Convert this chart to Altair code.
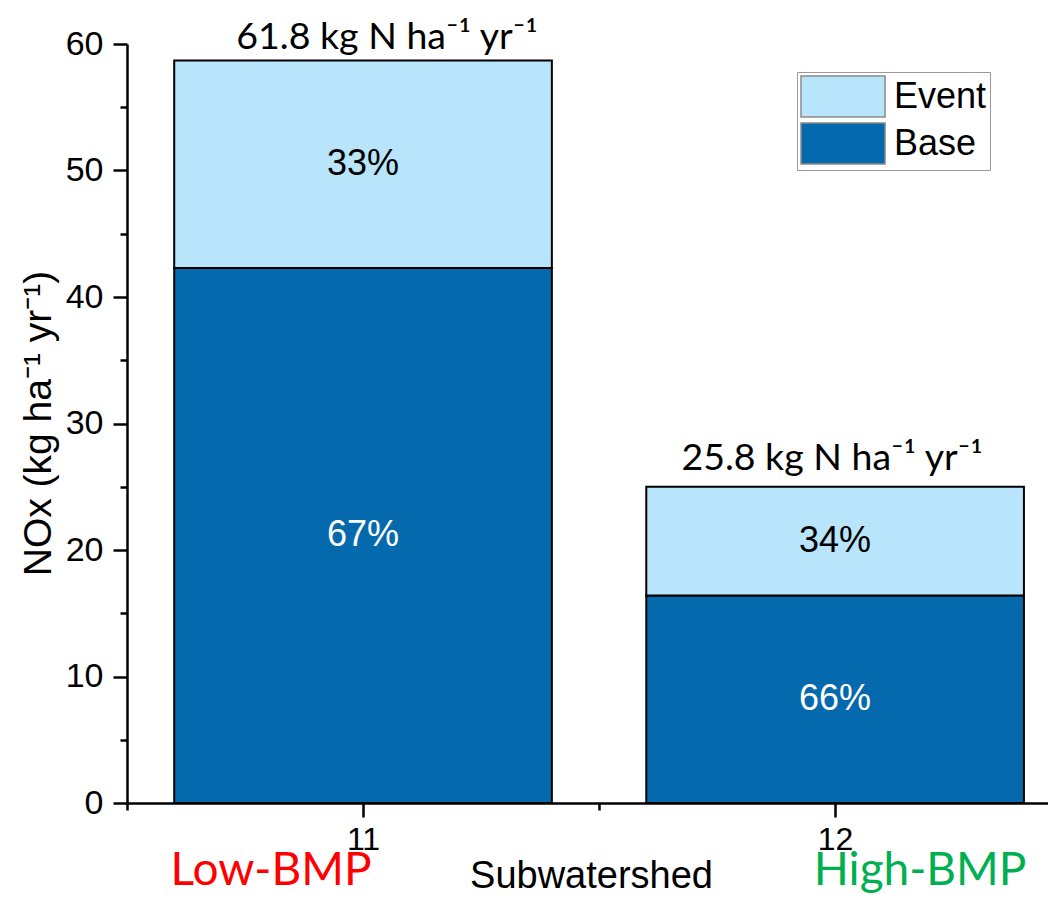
import altair as alt
import pandas as pd

# ---- data ----
categories = [11, 12]
base_values = [42.3, 16.4]
event_values = [16.4, 8.6]
base_pct = ["67%", "66%"]
event_pct = ["33%", "34%"]
total_labels = ["61.8 kg N ha\u207b\u00b9 yr\u207b\u00b9", "25.8 kg N ha\u207b\u00b9 yr\u207b\u00b9"]
series_names = ["Event", "Base"]
series_colors = ["#B8E5FB", "#0569AD"]
series_order = {"Base": 0, "Event": 1}
y_major = [0, 10, 20, 30, 40, 50, 60]
y_minor = [5, 15, 25, 35, 45, 55]
x_major = [11, 12]
x_minor = [10.5, 11.5]
group_labels = ["Low-BMP", "High-BMP"]
group_colors = ["#FF0000", "#00B050"]

rows = []
for i, c in enumerate(categories):
    rows.append(dict(cat=c, series="Base", value=base_values[i], pct=base_pct[i], ord=series_order["Base"]))
    rows.append(dict(cat=c, series="Event", value=event_values[i], pct=event_pct[i], ord=series_order["Event"]))
df = pd.DataFrame(rows)

df_tot = pd.DataFrame(dict(cat=categories, label=total_labels, base=base_values, event=event_values))
df_grp = pd.DataFrame(dict(cat=categories, glabel=group_labels, gcolor=group_colors))

xscale = alt.Scale(domain=[10.5, 12.451], nice=False, zero=False)
yscale = alt.Scale(domain=[0, 60], nice=False, zero=True)

FONT = "Liberation Sans"
CAL = "Lato"
TICKFS = 34

x_main_axis = alt.Axis(
    values=x_major, format="d", orient="bottom", grid=False,
    tickSize=14, tickWidth=2.5, tickColor="black",
    domainColor="black", domainWidth=2.5,
    labelFont=FONT, labelFontSize=32, labelColor="black", labelPadding=7,
    title="Subwatershed", titleFont=FONT, titleFontSize=38, titleFontWeight="normal",
    titleColor="black", titleX=464, titleY=84, titleAlign="center", titleBaseline="alphabetic",
)
y_main_axis = alt.Axis(
    values=y_major, orient="left", grid=False,
    tickSize=14, tickWidth=2.5, tickColor="black",
    domainColor="black", domainWidth=2.5,
    labelFont=FONT, labelFontSize=TICKFS, labelColor="black", labelPadding=10,
    title="NOx (kg ha\u207b\u00b9 yr\u207b\u00b9)", titleFont=FONT, titleFontSize=39,
    titleFontWeight="normal", titleColor="black", titleAngle=270,
    titleX=-77, titleY=379, titleAlign="center", titleBaseline="alphabetic",
)
x_minor_axis = alt.Axis(values=x_minor, orient="bottom", grid=False, labels=False, domain=False,
                        tickSize=7, tickWidth=2.5, tickColor="black", title=None)
y_minor_axis = alt.Axis(values=y_minor, orient="left", grid=False, labels=False, domain=False,
                        tickSize=7, tickWidth=2.5, tickColor="black", title=None)

stacked = alt.Chart(df).transform_stack(
    stack="value", groupby=["cat"], sort=[alt.SortField("ord", order="ascending")], as_=["y0", "y1"]
)

bars = stacked.transform_calculate(
    xa="datum.cat - 0.4", xb="datum.cat + 0.4"
).mark_bar(stroke="black", strokeWidth=2).encode(
    x=alt.X("xa:Q", scale=xscale, axis=x_main_axis),
    x2="xb:Q",
    y=alt.Y("y0:Q", scale=yscale, axis=y_main_axis),
    y2="y1:Q",
    color=alt.Color(
        "series:N",
        scale=alt.Scale(domain=series_names, range=series_colors),
        legend=alt.Legend(
            title=None, orient="none", legendX=670, legendY=28, direction="vertical",
            symbolType="M-1,-1L3.1,-1L3.1,1L-1,1Z", symbolSize=1681,
            symbolStrokeColor="#8a8a8a", symbolStrokeWidth=1.5, symbolOpacity=1,
            labelFont=FONT, labelFontSize=36, labelColor="black", labelOffset=51,
            rowPadding=0, padding=3, strokeColor="#9a9a9a", fillColor="white",
        ),
    ),
)

pct_text = stacked.transform_calculate(
    mid="(datum.y0 + datum.y1) / 2"
).mark_text(font=FONT, fontSize=36, align="center", baseline="middle").encode(
    x=alt.X("cat:Q", scale=xscale, axis=x_minor_axis),
    y=alt.Y("mid:Q", scale=yscale, axis=y_minor_axis),
    text="pct:N",
    color=alt.condition(alt.datum.series == "Base", alt.value("white"), alt.value("black")),
)

tot_base = alt.Chart(df_tot).transform_calculate(total="datum.base + datum.event")
tot_enc = dict(
    x=alt.X("cat:Q", scale=xscale, axis=None),
    y=alt.Y("total:Q", scale=yscale, axis=None),
    text="label:N",
)
tot11 = tot_base.transform_filter(alt.datum.cat == categories[0]).mark_text(
    font=CAL, fontSize=37.5, align="center", baseline="alphabetic", dx=24, dy=-11, color="black"
).encode(**tot_enc)
tot12 = tot_base.transform_filter(alt.datum.cat == categories[1]).mark_text(
    font=CAL, fontSize=37.5, align="center", baseline="alphabetic", dx=-3, dy=-17, color="black"
).encode(**tot_enc)

grp_base = alt.Chart(df_grp)
grp_enc = dict(
    x=alt.X("cat:Q", scale=xscale, axis=None),
    y=alt.value(841),
    text="glabel:N",
    color=alt.Color("gcolor:N", scale=None, legend=None),
)
grp11 = grp_base.transform_filter(alt.datum.cat == categories[0]).mark_text(
    font=CAL, fontSize=46, align="center", baseline="alphabetic", dx=-92
).encode(**grp_enc)
grp12 = grp_base.transform_filter(alt.datum.cat == categories[1]).mark_text(
    font=CAL, fontSize=46, align="center", baseline="alphabetic", dx=85
).encode(**grp_enc)

chart = alt.layer(bars, pct_text, tot11, tot12, grp11, grp12).resolve_scale(
    x="shared", y="shared", color="independent"
).resolve_axis(
    x="independent", y="independent"
).properties(
    width=921, height=759,
    autosize=alt.AutoSizeParams(type="none"),
    padding={"left": 119, "top": 36, "right": 0, "bottom": 93},
).configure_axis(
    labelFont=FONT, labelColor="black"
).configure_view(stroke=None)

chart.save("out.html", embed_options={"renderer": "svg", "actions": False})
